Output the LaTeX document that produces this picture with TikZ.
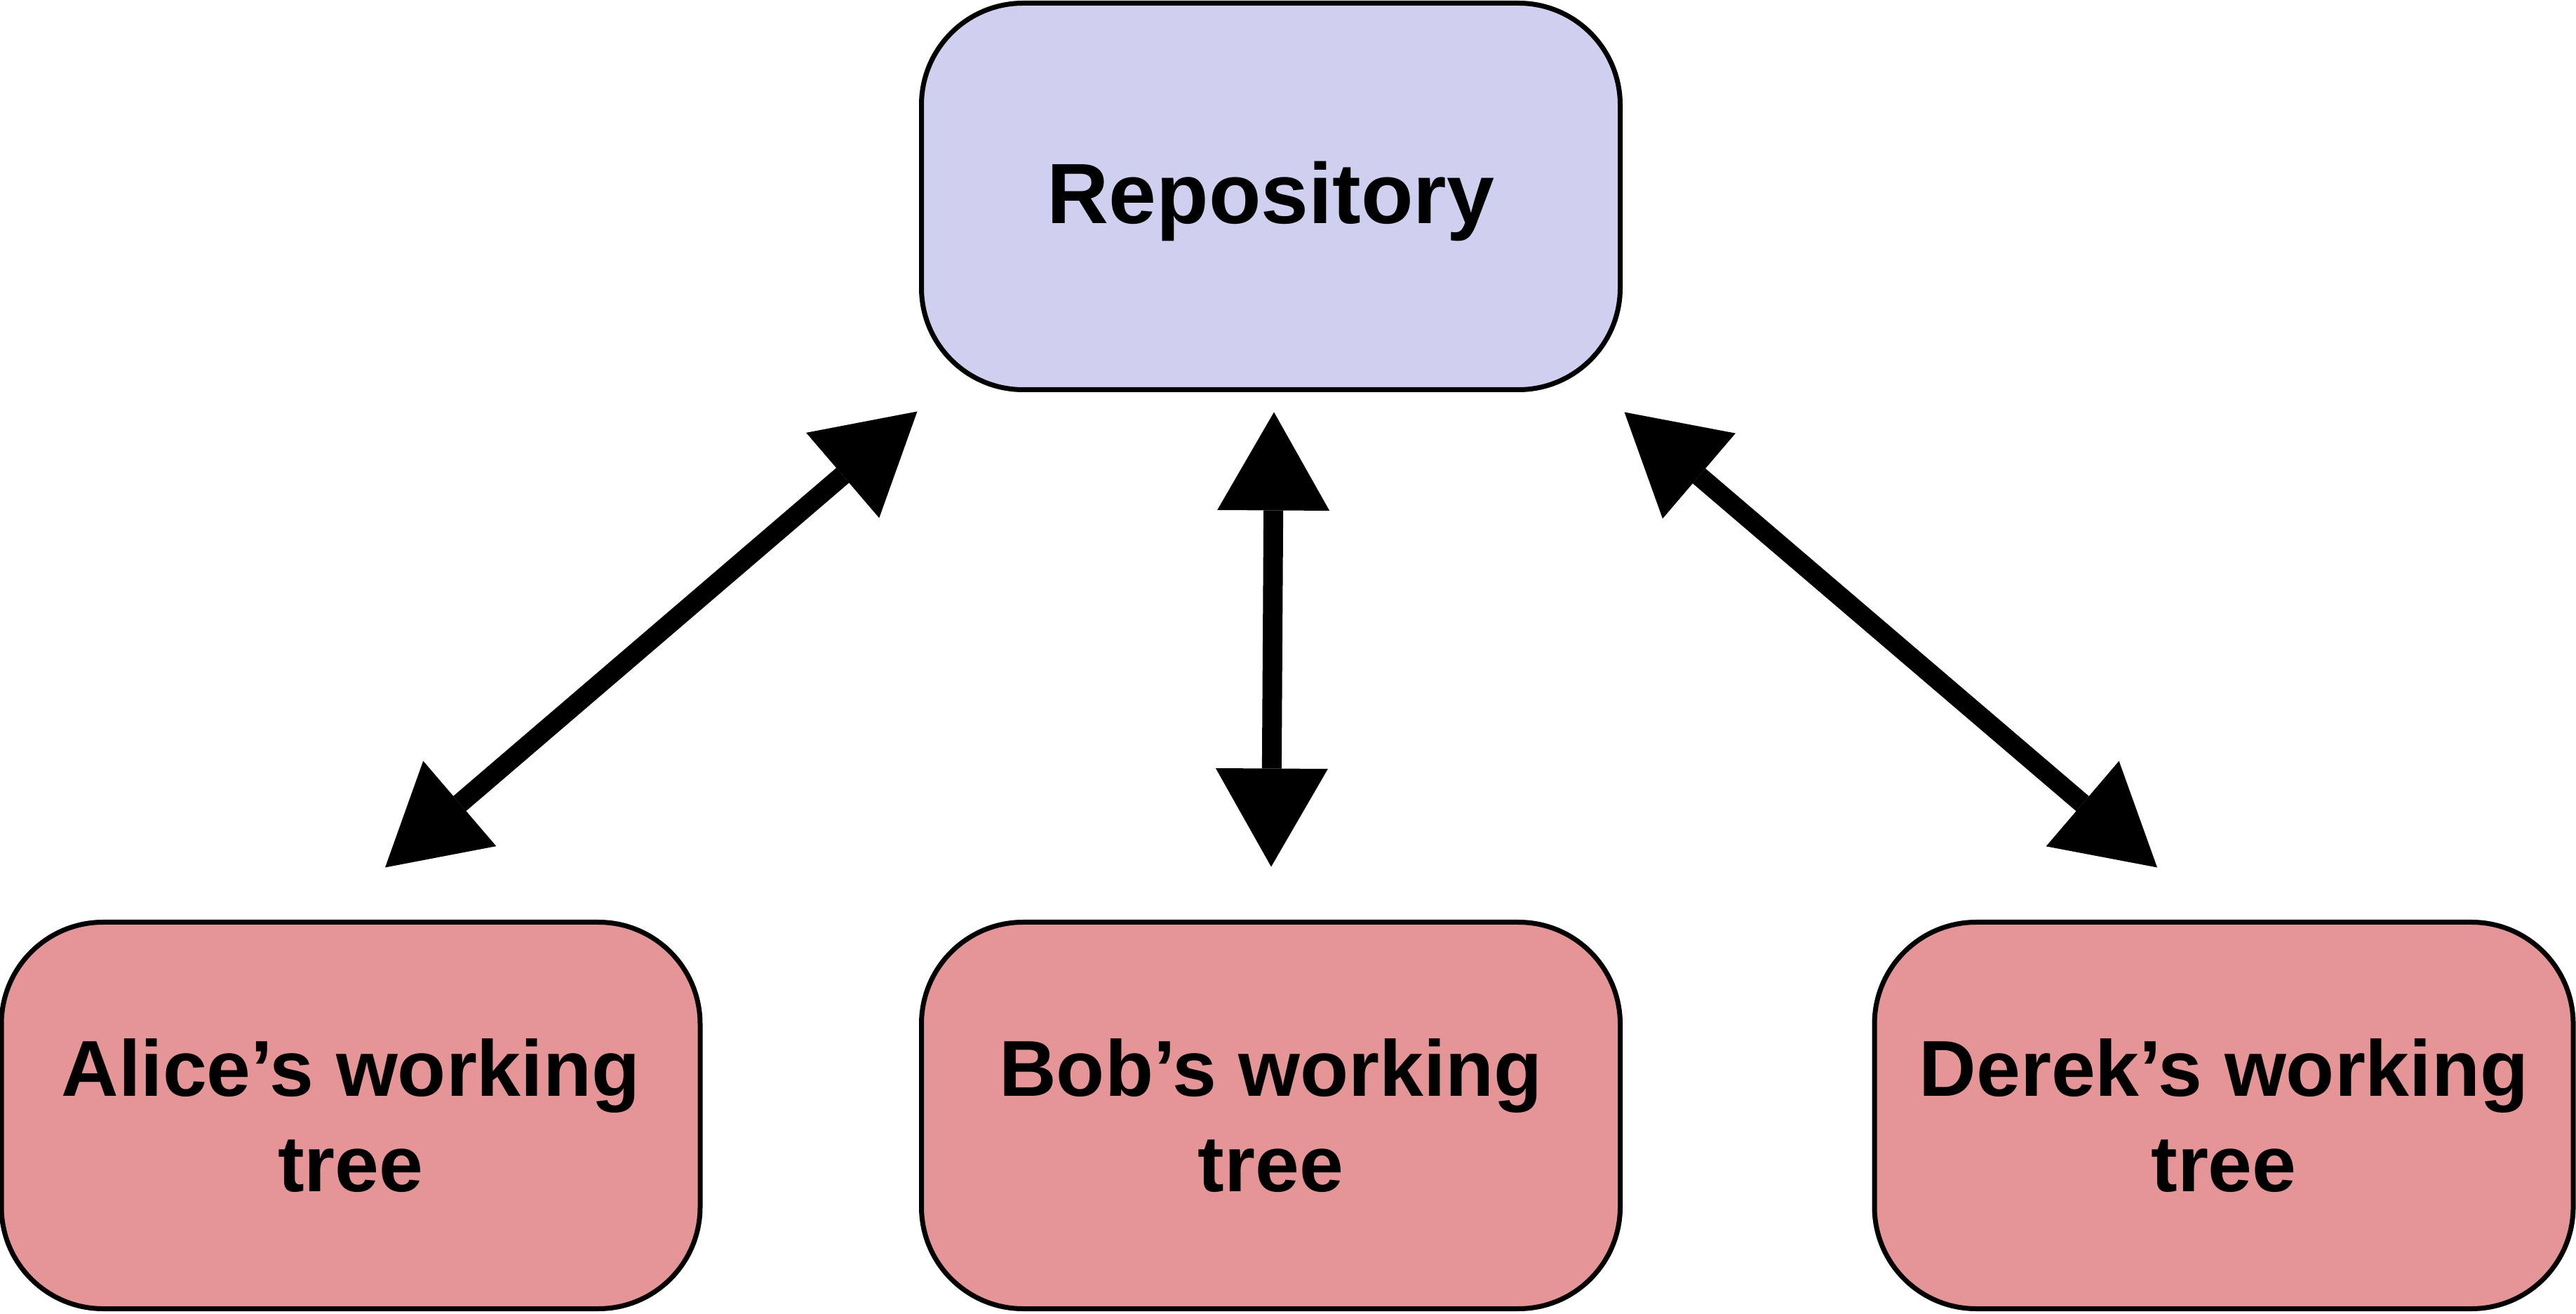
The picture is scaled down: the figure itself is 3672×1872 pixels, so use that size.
\documentclass[tikz,border=0pt]{standalone}
\usepackage{fontspec}
\setmainfont{Liberation Sans}
\usetikzlibrary{arrows.meta,calc}
\definecolor{repofill}{RGB}{207,207,239}
\definecolor{treefill}{RGB}{230,149,150}
\begin{document}
\begin{tikzpicture}[x=1pt,y=1pt,
  box/.style={draw=black, line width=7pt, rounded corners=145pt,
    minimum width=996pt, minimum height=551pt, inner sep=0pt, align=center},
  repobox/.style={box, fill=repofill, font=\fontsize{122}{146}\selectfont\bfseries,
    text height=89pt, text depth=11pt},
  treebox/.style={box, fill=treefill, font=\fontsize{113}{136}\selectfont\bfseries},
  biarrow/.style={line width=28pt,
    {Triangle[length=140pt,width=160pt,line width=0pt]}-{Triangle[length=140pt,width=160pt,line width=0pt]}}
]
\useasboundingbox (0,0) rectangle (3672,1872);
\node[repobox] (repo) at (1811.5,1592) {Repository};
\node[treebox] (alice) at (500,282) {Alice’s working\\tree};
\node[treebox] (bob) at (1811.5,282) {Bob’s working\\tree};
\node[treebox] (derek) at (3170,282) {Derek’s working\\tree};
\coordinate (la) at ($(alice.north)+(49,74.5)$);
\coordinate (lr) at ($(repo.south west)+(-2.5,-27.5)$);
\coordinate (mb) at ($(bob.north)+(0.5,75.5)$);
\coordinate (mr) at ($(repo.south)+(4.5,-28.5)$);
\coordinate (rd) at ($(derek.north)+(-95,74.5)$);
\coordinate (rr) at ($(repo.south east)+(2.5,-28.5)$);
\draw[biarrow] (la) -- (lr);
\draw[biarrow] (mb) -- (mr);
\draw[biarrow] (rd) -- (rr);
\end{tikzpicture}
\end{document}
